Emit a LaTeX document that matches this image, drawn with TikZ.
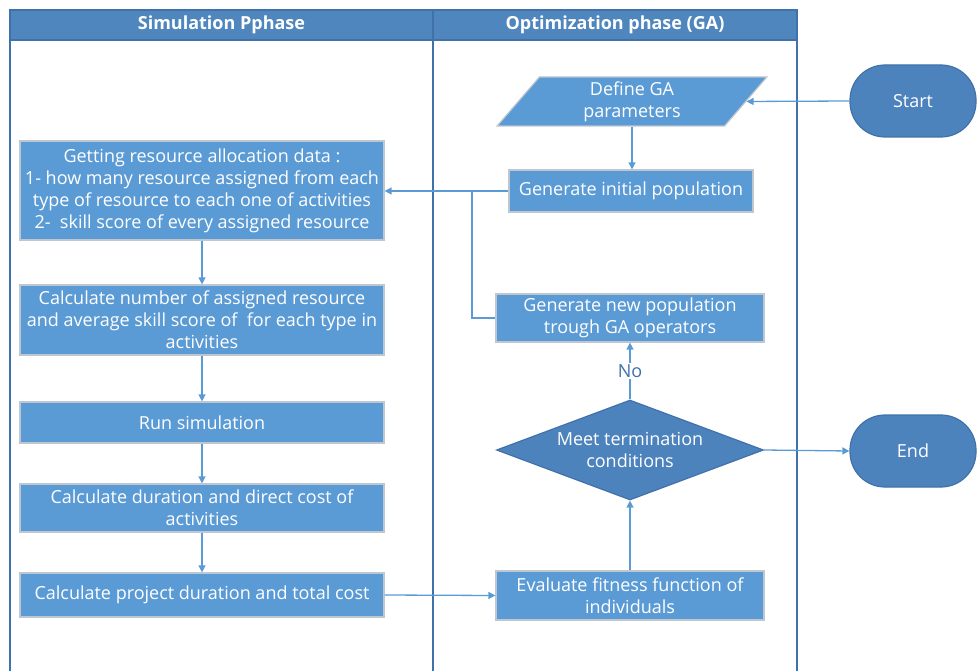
\documentclass[tikz,border=0pt]{standalone}
\usepackage{fontspec}
\setmainfont{Open Sans}
\usetikzlibrary{positioning,arrows.meta,shapes.geometric,calc}

\definecolor{laneblue}{RGB}{79,134,189}
\definecolor{boxblue}{RGB}{91,155,213}
\definecolor{termblue}{RGB}{77,131,189}
\definecolor{lineblue}{RGB}{91,155,213}
\definecolor{frameblue}{RGB}{65,113,170}
\definecolor{boxedge}{RGB}{190,198,208}

\begin{document}
\begin{tikzpicture}[x=1pt, y=-1pt,
    every node/.style={font=\fontsize{18}{22}\selectfont, text=white, align=center},
    process/.style={rectangle, draw=boxedge, line width=1.2pt, fill=boxblue, inner sep=1pt},
    terminal/.style={rectangle, rounded corners=35pt, draw=frameblue, line width=1.2pt, fill=termblue, minimum width=126pt, minimum height=72pt},
    arrow/.style={-{Triangle[length=7pt, width=7pt]}, line width=1.3pt, lineblue},
    link/.style={line width=1.3pt, lineblue},
]
\useasboundingbox (0,0) rectangle (977,671);

% Swimlanes
\fill[laneblue] (10,10) rectangle (797,40);
\draw[frameblue, line width=1.2pt] (10,671) -- (10,10) -- (797,10) -- (797,671);
\draw[frameblue, line width=1.2pt] (10,40) -- (797,40);
\draw[frameblue, line width=1.2pt] (433,10) -- (433,671);
\node[font=\fontsize{18}{20}\selectfont\bfseries] (simlane) at (221.5,25) {Simulation Pphase};
\node[font=\fontsize{18}{20}\selectfont\bfseries] (optlane) at (615,25) {Optimization phase (GA)};

% Simulation phase
\node[process, minimum width=364pt, minimum height=99pt] (getdata) at (202,190.5)
  {Getting resource allocation data :\\1- how many resource assigned from each\\type of resource to each one of activities\\2-\ \ skill score of every assigned resource};
\node[process, minimum width=364pt, minimum height=70pt] (calcnum) at (202,320)
  {Calculate number of assigned resource\\and average skill score of\ \ for each type in\\activities};
\node[process, minimum width=364pt, minimum height=41pt] (runsim) at (202,422.5) {Run simulation};
\node[process, minimum width=364pt, minimum height=48pt] (calcdur) at (202,508)
  {Calculate duration and direct cost of\\activities};
\node[process, minimum width=364pt, minimum height=44pt] (calcproj) at (202,595)
  {Calculate project duration and total cost};

% Optimization phase
\node[trapezium, trapezium left angle=61, trapezium right angle=119, trapezium stretches=true,
  draw=boxedge, line width=1.2pt, fill=boxblue, minimum width=270pt, minimum height=49pt, inner sep=0pt] (define) at (632,101.5)
  {Define GA\\parameters};
\node[process, minimum width=244pt, minimum height=42pt] (geninit) at (631,191) {Generate initial population};
\node[process, minimum width=268pt, minimum height=48pt] (gennew) at (630,318)
  {Generate new population\\trough GA operators};
\node[diamond, aspect=2.67, draw=frameblue, line width=1.2pt, fill=termblue, minimum width=267pt, minimum height=100pt, inner sep=0pt] (meet) at (630,450)
  {Meet termination\\conditions};
\node[process, minimum width=268pt, minimum height=49pt] (evaluate) at (630,595.5)
  {Evaluate fitness function of\\individuals};

% Start / End
\node[terminal] (start) at (913,101) {Start};
\node[terminal] (end) at (913,451) {End};

% Connectors
\coordinate (join) at (472,191);
\draw[arrow] (start.west) -- (define.east);
\draw[arrow] (define.south) -- (define.south |- geninit.north);
\draw[arrow] (geninit.west) -- (getdata.east |- geninit.west);
\draw[link] (gennew.west) -| (join);
\draw[arrow] (getdata.south) -- (calcnum.north);
\draw[arrow] (calcnum.south) -- (runsim.north);
\draw[arrow] (runsim.south) -- (calcdur.north);
\draw[arrow] (calcdur.south) -- (calcproj.north);
\draw[arrow] (calcproj.east) -- (evaluate.west);
\draw[arrow] (evaluate.north) -- (meet.south);
\draw[arrow] (meet.north) -- node[fill=white, text=frameblue, inner sep=1pt] {No} (gennew.south);
\draw[arrow] (meet.east) -- (end.west);
\end{tikzpicture}
\end{document}
